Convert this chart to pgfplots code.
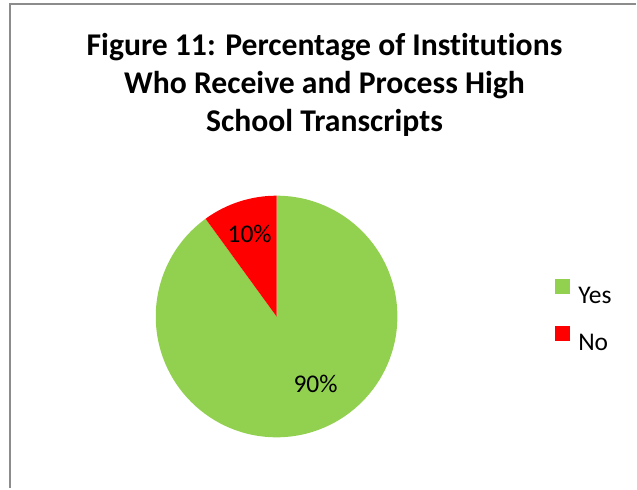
\documentclass[border=0pt]{standalone}
\usepackage{fontspec}
\setmainfont{Carlito}[Ligatures={NoCommon}]
\usepackage{pgfplots}
\usepackage{pgfplotstable}
\pgfplotsset{compat=1.18}
\definecolor{yesgreen}{HTML}{92D050}
\definecolor{nored}{HTML}{FF0000}
\definecolor{framegray}{HTML}{8C8C8C}

% share of institutions, in percent
\pgfplotstableread{
label share
Yes 90
No 10
}\piedata

\begin{document}
\begin{tikzpicture}
\pgfplotstablegetelem{0}{share}\of\piedata \let\yesval\pgfplotsretval
\pgfplotstablegetelem{1}{share}\of\piedata \let\noval\pgfplotsretval
\pgfmathsetmacro\yesend{90-3.6*\yesval}
\pgfmathsetmacro\noend{\yesend-3.6*\noval}
\begin{axis}[
  scale only axis,
  width=637pt, height=489pt,
  xmin=0, xmax=637, ymin=0, ymax=489,
  hide axis, clip=false,
  legend image code/.code={\fill (0pt,2pt) rectangle (15pt,17pt);},
  legend style={at={(axis cs:556,172)}, anchor=west, draw=none, fill=none,
    font=\fontsize{25.5}{30}\selectfont, inner sep=0pt,
    row sep=20pt, column sep=6pt},
  legend cell align=left,
]
\path (axis cs:0,0) rectangle (axis cs:637,489);
\draw[framegray, line width=2pt] (axis cs:10,0) -- (axis cs:10,485) -- (axis cs:637,485);
% pie wedges, clockwise from 12 o'clock
\fill[yesgreen] (axis cs:277,172) -- ++(90:121pt)
  arc[start angle=90, end angle=\yesend, radius=121pt] -- cycle;
\fill[nored] (axis cs:277,172) -- ++(\yesend:121pt)
  arc[start angle=\yesend, end angle=\noend, radius=121pt] -- cycle;
\node[font=\fontsize{25.5}{30}\selectfont] at (axis cs:250,255) {\noval\%};
\node[font=\fontsize{25.5}{30}\selectfont] at (axis cs:316,104) {\yesval\%};
\node[align=center, font=\bfseries\fontsize{31.7}{38.5}\selectfont]
  at (axis cs:325,404) {Figure 11: Percentage of Institutions\\
  Who Receive and Process High\\ School Transcripts};
\addlegendimage{draw=none, fill=yesgreen}
\addlegendentry{Yes}
\addlegendimage{draw=none, fill=nored}
\addlegendentry{No}
\end{axis}
\end{tikzpicture}
\end{document}
